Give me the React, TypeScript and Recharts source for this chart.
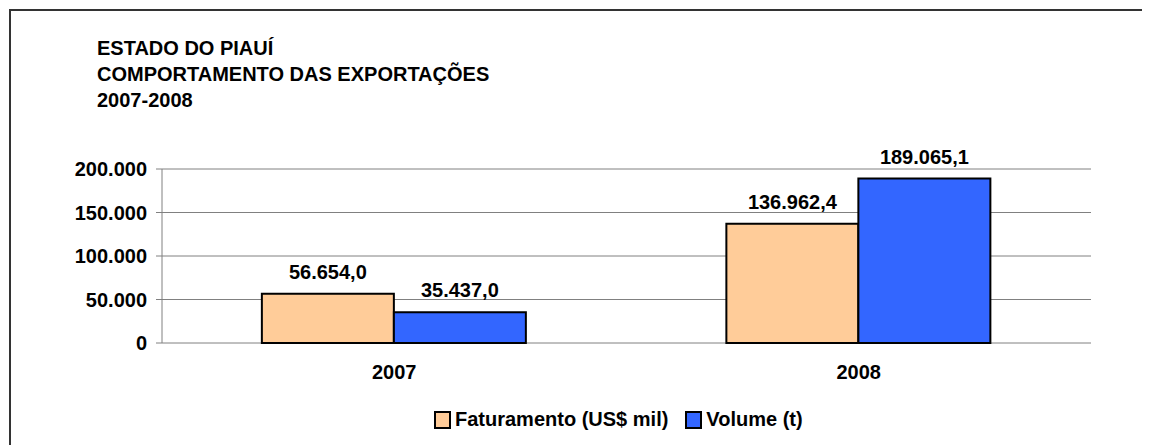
import {
  BarChart, Bar, XAxis, YAxis, CartesianGrid, Legend, LabelList,
} from 'recharts';

const years = ['2007', '2008'];
const faturamento = [56654.0, 136962.4];
const volume = [35437.0, 189065.1];
const yTicks = [0, 50000, 100000, 150000, 200000];
const titleLines = ['ESTADO DO PIAUÍ', 'COMPORTAMENTO DAS EXPORTAÇÕES', '2007-2008'];

const data = years.map((year, i) => ({
  year,
  faturamento: faturamento[i],
  volume: volume[i],
}));

const FONT = '"Liberation Sans", Arial, sans-serif';

// pt-BR style: dot for thousands, comma for decimals
function fmt(v: number, dec: number) {
  const [int, frac] = v.toFixed(dec).split('.');
  const withDots = int.replace(/\B(?=(\d{3})+(?!\d))/g, '.');
  return frac ? `${withDots},${frac}` : withDots;
}

const tickStyle = { fontSize: 20, fontWeight: 700, fill: '#000', fontFamily: FONT };

function LegendBoxes({ payload }: any) {
  return (
    <div style={{ display: 'flex', alignItems: 'center', fontFamily: FONT, fontSize: 20, fontWeight: 700 }}>
      {(payload || []).map((p: any, i: number) => (
        <div key={p.value} style={{ display: 'flex', alignItems: 'center', marginLeft: i ? 17 : 0 }}>
          <span style={{ width: 13, height: 14, background: p.color, border: '2px solid #000', marginRight: 4 }} />
          <span style={{ whiteSpace: 'nowrap' }}>{p.value}</span>
        </div>
      ))}
    </div>
  );
}

export default function App() {
  return (
    <div style={{ position: 'relative', width: 1142, height: 437, background: '#fff' }}>
      <div style={{
        position: 'absolute', left: 1, top: 1, right: -10, bottom: -10,
        borderLeft: '2px solid #333', borderTop: '2px solid #333',
      }} />
      <div style={{
        position: 'absolute', left: 89, top: 27, fontFamily: FONT, fontSize: 20,
        fontWeight: 700, lineHeight: '26px', color: '#000',
      }}>
        {titleLines.map((t) => <div key={t}>{t}</div>)}
      </div>
      <BarChart
        width={1142}
        height={437}
        data={data}
        margin={{ top: 161, right: 59, left: 0, bottom: 62 }}
        barCategoryGap="21.5%"
        barGap={0}
        style={{ position: 'absolute', left: 0, top: 0 }}
      >
        <CartesianGrid vertical={false} stroke="#808080" />
        <XAxis
          xAxisId="grid"
          type="number"
          domain={[0, 2]}
          ticks={[0, 1, 2]}
          allowDataOverflow
          height={0}
          tickSize={5}
          tickFormatter={() => ''}
          tickLine={{ stroke: '#808080' }}
          axisLine={{ stroke: '#000', strokeWidth: 1.5 }}
        />
        <XAxis
          xAxisId="cat"
          dataKey="year"
          height={40}
          axisLine={false}
          tickLine={false}
          tickMargin={16}
          tick={tickStyle}
        />
        <YAxis
          width={154}
          domain={[0, 200000]}
          ticks={yTicks}
          tickFormatter={(v: number) => fmt(v, 0)}
          tick={tickStyle}
          tickSize={6}
          tickMargin={9}
          tickLine={{ stroke: '#808080' }}
          axisLine={{ stroke: '#808080' }}
        />
        <Legend
          layout="horizontal"
          verticalAlign="middle"
          align="center"
          content={<LegendBoxes />}
          wrapperStyle={{ left: 426, top: 400, width: 'auto', height: 'auto' }}
        />
        <Bar xAxisId="cat" dataKey="faturamento" name="Faturamento (US$ mil)" fill="#FFCC99" stroke="#000" strokeWidth={2} isAnimationActive={false}>
          <LabelList dataKey="faturamento" position="top" offset={15} formatter={(v: any) => fmt(Number(v), 1)} style={tickStyle} />
        </Bar>
        <Bar xAxisId="cat" dataKey="volume" name="Volume (t)" fill="#3366FF" stroke="#000" strokeWidth={2} isAnimationActive={false}>
          <LabelList dataKey="volume" position="top" offset={15} formatter={(v: any) => fmt(Number(v), 1)} style={tickStyle} />
        </Bar>
      </BarChart>
    </div>
  );
}
